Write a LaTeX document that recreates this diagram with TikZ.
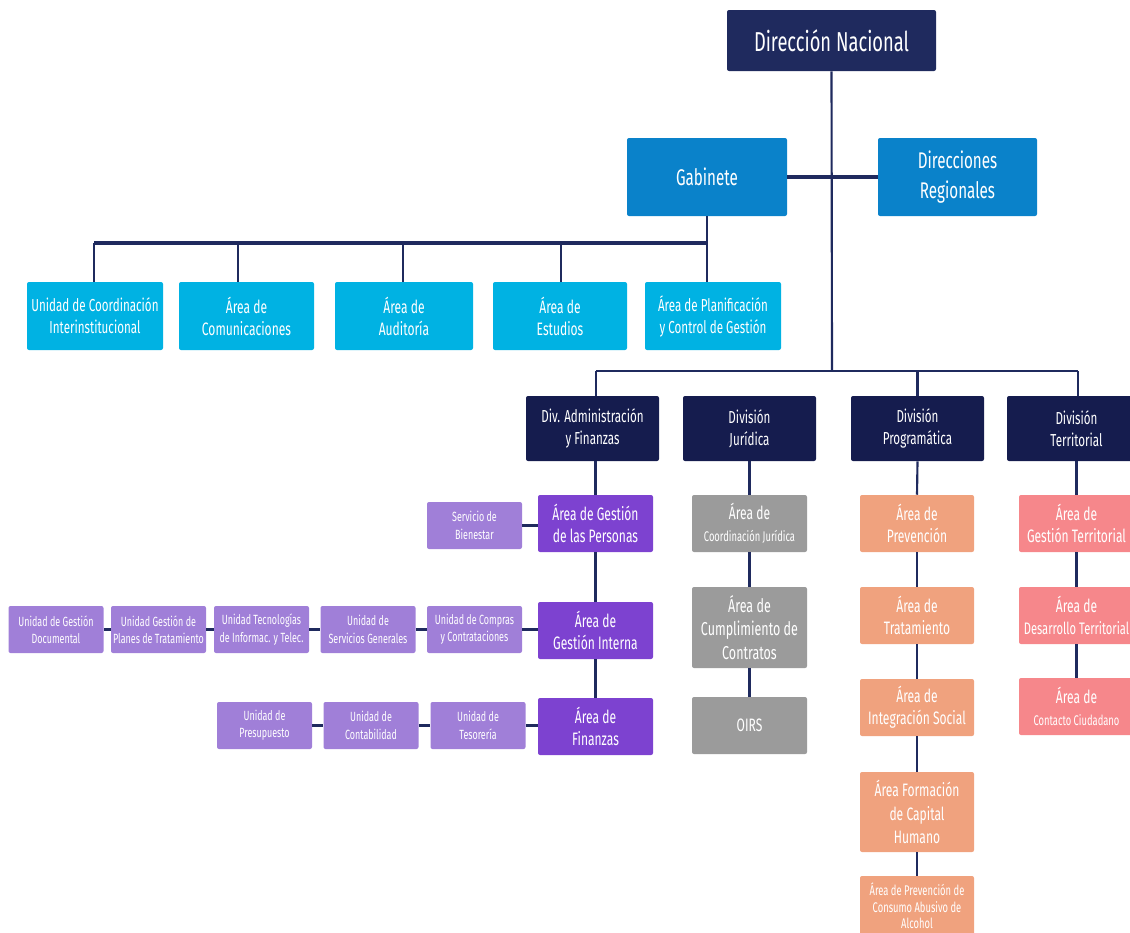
\documentclass[tikz,border=0pt]{standalone}
\usepackage{fontspec}
\setmainfont{Fira Sans}[FakeStretch=0.67]
\definecolor{navy}{HTML}{1F2A5E}
\definecolor{divnavy}{HTML}{151C4E}
\definecolor{gabblue}{HTML}{0A82CA}
\definecolor{ltblue}{HTML}{00B2E3}
\definecolor{purp}{HTML}{7D42D0}
\definecolor{ltpurp}{HTML}{A07FD8}
\definecolor{grayb}{HTML}{9B9B9B}
\definecolor{orng}{HTML}{F0A27E}
\definecolor{pinkb}{HTML}{F6878B}
\tikzset{
  bx/.style={rectangle, rounded corners=1.5pt, inner sep=0pt, align=center, text=white, font=\fontsize{13.5}{16.5}\selectfont},
  sz/.style 2 args={minimum width=#1*0.75pt, minimum height=#2*0.75pt},
  ln/.style={draw=navy, line width=1.6pt},
  thk/.style={draw=navy, line width=2.6pt},
}
\begin{document}
\begin{tikzpicture}[x=0.75pt,y=-0.75pt]
\useasboundingbox (0,0) rectangle (1130,932);
% top
\node[bx, fill=navy, sz={209}{61}, font=\fontsize{20.5}{24}\selectfont] (dn) at (831.5,40.5) {Dirección Nacional};
\node[bx, fill=gabblue, sz={160}{78}, font=\fontsize{17}{22.5}\selectfont] (gab) at (707,177) {Gabinete};
\node[bx, fill=gabblue, sz={159}{78}, font=\fontsize{17}{22.5}\selectfont] (dr) at (957.5,177) {Direcciones\\Regionales};
% gabinete units
\node[bx, fill=ltblue, sz={136}{68}, font=\fontsize{13}{16.5}\selectfont] (lb1) at (95,316) {Unidad de Coordinación\\Interinstitucional};
\node[bx, fill=ltblue, sz={135}{68}] (lb2) at (246.5,316) {Área de\\Comunicaciones};
\node[bx, fill=ltblue, sz={138}{68}] (lb3) at (404,316) {Área de\\Auditoría};
\node[bx, fill=ltblue, sz={134}{68}] (lb4) at (560,316) {Área de\\Estudios};
\node[bx, fill=ltblue, sz={136}{68}, font=\fontsize{13}{16.5}\selectfont] (lb5) at (713,316) {Área de Planificación\\y Control de Gestión};
% divisions
\node[bx, fill=divnavy, sz={133}{65}, font=\fontsize{13}{16.5}\selectfont] (d1) at (592.5,428.5) {Div. Administración\\y Finanzas};
\node[bx, fill=divnavy, sz={133}{65}, font=\fontsize{13}{16.5}\selectfont] (d2) at (749.5,428.5) {División\\Jurídica};
\node[bx, fill=divnavy, sz={133}{65}, font=\fontsize{13}{16.5}\selectfont] (d3) at (917.5,428.5) {División\\Programática};
\node[bx, fill=divnavy, sz={139}{65}, font=\fontsize{13}{16.5}\selectfont] (d4) at (1076.5,428.5) {División\\Territorial};
% admin areas
\node[bx, fill=purp, sz={115}{57}] (p1) at (595.5,523.5) {Área de Gestión\\de las Personas};
\node[bx, fill=purp, sz={115}{57}] (p2) at (595.5,630.5) {Área de\\Gestión Interna};
\node[bx, fill=purp, sz={115}{57}] (p3) at (595.5,726.5) {Área de\\Finanzas};
% small purple
\tikzset{sp/.style={bx, fill=ltpurp, sz={95}{47}, font=\fontsize{10}{13}\selectfont}}
\node[sp] (s0) at (474.5,525.5) {Servicio de\\Bienestar};
\node[sp] (r5) at (474.5,629.5) {Unidad de Compras\\y Contrataciones};
\node[sp] (r4) at (368,629.5) {Unidad de\\Servicios Generales};
\node[sp] (r3) at (261.5,629.5) {Unidad Tecnologías\\de Informac. y Telec.};
\node[sp] (r2) at (158.5,629.5) {Unidad Gestión de\\Planes de Tratamiento};
\node[sp] (r1) at (56,629.5) {Unidad de Gestión\\Documental};
\node[sp] (f3) at (478,725.5) {Unidad de\\Tesorería};
\node[sp] (f2) at (371,725.5) {Unidad de\\Contabilidad};
\node[sp] (f1) at (264.5,725.5) {Unidad de\\Presupuesto};
% juridica
\node[bx, fill=grayb, sz={115}{57}, font=\fontsize{13.5}{16.5}\selectfont] (g1) at (749.5,523.5) {Área de\\{\fontsize{10.5}{16.5}\selectfont Coordinación Jurídica}};
\node[bx, fill=grayb, sz={115}{81}, font=\fontsize{14}{17.5}\selectfont] (g2) at (749.5,627.5) {Área de\\Cumplimiento de\\Contratos};
\node[bx, fill=grayb, sz={115}{57}] (g3) at (749.5,725.5) {OIRS};
% programatica
\node[bx, fill=orng, sz={114}{57}] (o1) at (917,523.5) {Área de\\Prevención};
\node[bx, fill=orng, sz={114}{57}] (o2) at (917,615.5) {Área de\\Tratamiento};
\node[bx, fill=orng, sz={114}{57}] (o3) at (917,707.5) {Área de\\Integración Social};
\node[bx, fill=orng, sz={114}{80}, font=\fontsize{13.5}{17.5}\selectfont] (o4) at (917,812) {Área Formación\\de Capital\\Humano};
\node[bx, fill=orng, sz={114}{60}, font=\fontsize{10.5}{12.5}\selectfont] (o5) at (917,906) {Área de Prevención de\\Consumo Abusivo de\\Alcohol};
% territorial
\node[bx, fill=pinkb, sz={115}{57}] (t1) at (1076.5,523.5) {Área de\\Gestión Territorial};
\node[bx, fill=pinkb, sz={115}{57}, font=\fontsize{13.5}{16.5}\selectfont] (t2) at (1076.5,615.5) {Área de\\{\fontsize{12.5}{16.5}\selectfont Desarrollo Territorial}};
\node[bx, fill=pinkb, sz={115}{57}, font=\fontsize{13.5}{16.5}\selectfont] (t3) at (1076.5,706.5) {Área de\\{\fontsize{10.5}{16.5}\selectfont Contacto Ciudadano}};
% connectors top
\coordinate (mainbus) at (832,371);
\draw[ln] (dn.south) -- (mainbus);
\draw[thk] (gab.east) -- (dr.west);
\coordinate (gb) at (707,243);
\coordinate (gl) at (94,243);
\draw[ln] (gab.south) -- (gb);
\draw[thk] (gl) -- (gb);
\coordinate (v1) at (94,243);
\coordinate (v2) at (238,243);
\coordinate (v3) at (403,243);
\coordinate (v4) at (561,243);
\coordinate (v5) at (707,243);
\draw[ln] (v1) -- (v1 |- lb1.north);
\draw[ln] (v2) -- (v2 |- lb2.north);
\draw[ln] (v3) -- (v3 |- lb3.north);
\draw[ln] (v4) -- (v4 |- lb4.north);
\draw[ln] (v5) -- (v5 |- lb5.north);
% division bus
\coordinate (dbl) at (596,371);
\coordinate (dbr) at (1078,371);
\draw[ln] (dbl) -- (dbr);
\draw[ln] (dbl) -- (dbl |- d1.north);
\draw[ln] (mainbus -| d3.north) -- (d3.north);
\draw[ln] (dbr) -- (dbr |- d4.north);
% admin chain
\draw[ln] (d1.south -| p1.north) -- (p1.north);
\draw[ln] (p1) -- (p2);
\draw[ln] (p2) -- (p3);
\draw[ln] (s0.east) -- (s0.east -| p1.west);
\draw[ln] (r5.east) -- (r5.east -| p2.west);
\draw[ln] (r1.east) -- (r2.west);
\draw[ln] (r2.east) -- (r3.west);
\draw[ln] (r3.east) -- (r4.west);
\draw[ln] (r4.east) -- (r5.west);
\draw[ln] (f3.east) -- (f3.east -| p3.west);
\draw[ln] (f1.east) -- (f2.west);
\draw[ln] (f2.east) -- (f3.west);
% juridica chain
\draw[ln] (d2.south) -- (g1.north);
\draw[ln] (g1.south) -- (g2.north);
\draw[ln] (g2.south) -- (g3.north);
% programatica chain
\draw[ln] (d3.south) -- (o1.north);
\draw[ln] (o1.south) -- (o2.north);
\draw[ln] (o2.south) -- (o3.north);
\draw[ln] (o3.south) -- (o4.north);
\draw[ln] (o4.south) -- (o5.north);
% territorial chain
\draw[ln] (d4.south -| t1.north) -- (t1.north);
\draw[ln] (t1.south) -- (t2.north);
\draw[ln] (t2.south) -- (t3.north);
\end{tikzpicture}
\end{document}
